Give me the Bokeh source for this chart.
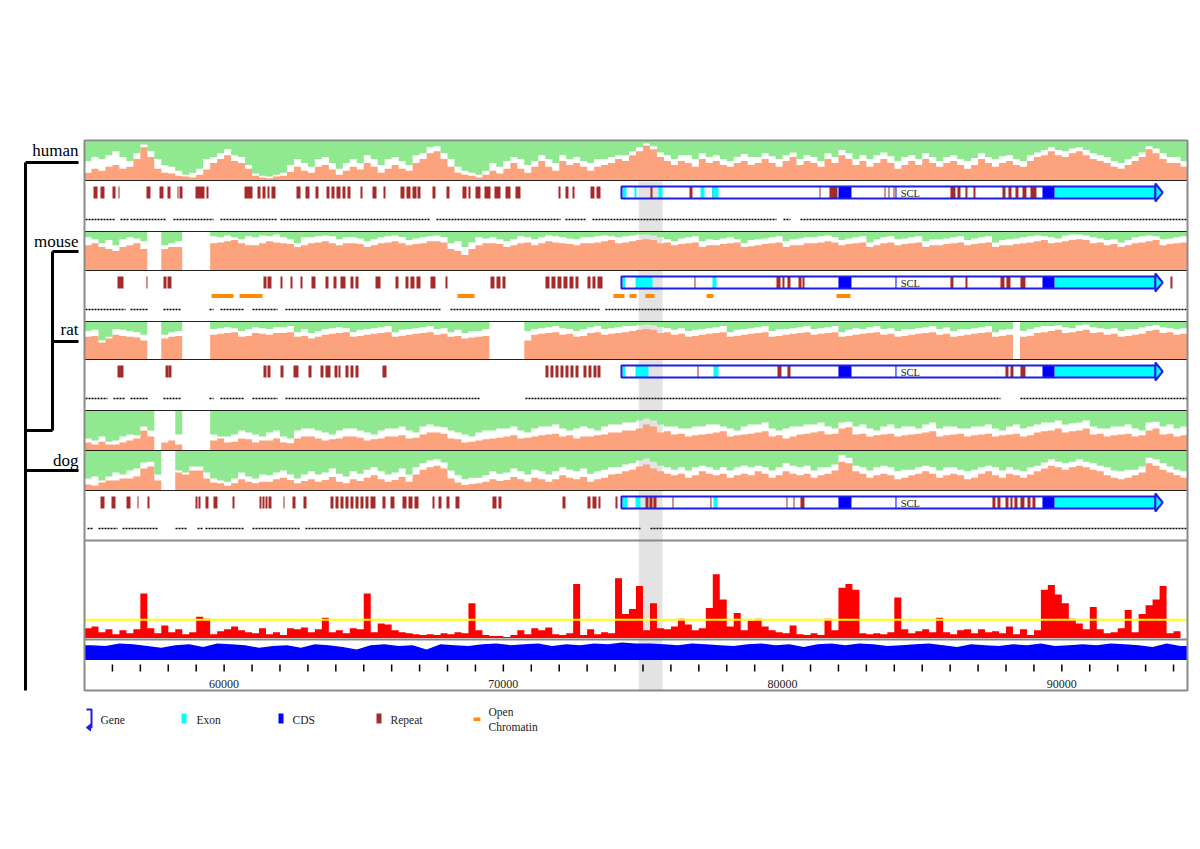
from bokeh.plotting import figure
from bokeh.models import Range1d
from bokeh.embed import file_html
from bokeh.resources import INLINE
from bokeh.core.properties import value

# ---------------- data ----------------
species = ["human", "mouse", "rat", "dog"]
tick_labels = [60000, 70000, 80000, 90000]

# conservation profiles, 250 bp steps from 55000 (lo = salmon height %, hi = lower edge of green %)
human_lo = [20,30,25,35,40,30,35,55,85,60,30,20,18,12,10,8,15,28,45,55,
            65,50,45,30,12,8,6,10,12,22,35,25,20,35,40,28,15,25,35,28,
            45,35,20,30,40,30,25,45,55,70,75,55,35,20,15,12,8,15,25,18,
            30,45,30,20,35,50,35,25,50,40,45,35,25,35,40,45,55,50,65,75,
            90,80,60,50,40,50,45,35,55,45,50,40,35,45,50,40,45,55,45,35,
            50,60,40,50,45,35,55,45,65,55,40,50,35,45,55,45,30,40,50,40,
            55,45,35,45,50,40,30,40,55,45,35,45,50,40,35,50,60,65,75,65,
            60,70,75,65,55,50,45,35,30,40,50,60,80,70,55,45,45,35]
human_hi = [50,60,55,65,75,60,50,70,92,75,55,40,35,25,15,20,30,55,60,70,
            80,65,60,40,18,12,10,15,20,40,55,45,35,55,60,45,30,45,55,45,
            65,55,40,55,60,50,40,65,70,85,88,70,55,35,25,20,15,25,45,35,
            50,60,55,40,50,65,55,45,65,55,60,50,45,55,55,60,65,65,75,85,
            95,88,72,65,55,65,65,55,70,60,65,55,50,60,68,60,60,70,62,55,
            65,72,55,65,60,50,70,60,78,70,55,65,55,65,72,62,50,60,65,55,
            70,60,50,60,65,55,50,58,70,60,55,62,65,55,50,65,72,78,85,78,
            75,82,85,78,70,65,60,50,45,55,62,72,88,82,70,60,60,50]
mouse_lo = [65,70,60,55,50,60,65,70,55,0,0,55,60,60,0,0,0,0,70,72,
            75,78,70,65,65,70,75,72,70,68,60,65,70,72,75,70,65,70,70,68,
            60,65,70,72,75,70,65,68,70,75,75,72,55,50,40,55,65,70,70,68,
            60,65,70,72,65,70,75,72,70,68,65,70,70,72,75,78,70,72,75,78,
            80,78,70,72,65,68,70,72,60,65,65,68,70,72,60,62,65,68,70,72,
            60,65,65,70,70,72,75,72,65,68,70,72,60,65,70,72,65,68,70,72,
            60,65,65,68,70,72,65,68,70,72,60,65,65,68,70,72,75,78,70,72,
            75,78,80,78,70,72,65,68,60,65,70,72,75,78,65,68,70,72]
mouse_hi = [85,80,70,78,65,80,85,82,75,100,100,65,70,75,100,100,100,100,88,85,
            90,85,80,88,85,90,88,92,85,80,70,85,85,88,90,88,80,85,85,82,
            75,80,85,88,90,86,78,82,85,88,90,86,70,75,60,72,85,82,85,80,
            75,80,88,85,80,85,90,88,85,82,80,85,85,88,90,88,85,88,90,92,
            92,90,85,80,75,82,85,88,75,80,78,82,85,80,70,78,80,82,85,88,
            75,80,82,85,85,88,90,86,78,82,85,88,72,80,85,88,80,82,85,88,
            75,80,80,82,85,88,78,82,85,88,72,78,80,82,85,88,90,88,85,82,
            90,92,92,90,85,82,78,80,72,78,85,88,90,88,80,82,85,88]
rat_lo = [60,62,45,55,65,62,60,58,50,0,0,55,60,62,0,0,0,0,65,68,
          70,72,60,62,70,68,65,70,70,72,60,62,55,60,65,68,70,72,60,62,
          65,68,70,72,60,62,65,68,70,72,65,68,60,62,55,58,60,62,0,0,
          0,0,0,50,65,68,70,72,65,68,60,62,70,72,65,68,70,72,75,78,
          80,78,70,72,65,68,60,62,65,68,70,72,60,62,65,68,70,72,60,62,
          65,68,70,72,65,68,70,72,60,62,65,68,70,72,65,68,60,62,65,68,
          70,72,65,68,60,62,65,68,70,72,60,62,65,0,60,62,70,72,75,78,
          70,72,75,78,70,72,65,68,60,62,65,68,75,78,70,72,65,68]
rat_hi = [75,78,50,60,80,78,75,72,65,100,100,65,72,75,100,100,100,100,80,82,
          85,82,75,80,85,82,80,85,85,88,72,80,70,75,80,82,85,82,72,78,
          80,82,85,88,72,78,80,82,85,88,80,82,72,78,70,75,75,80,100,100,
          100,100,100,75,80,82,85,88,82,80,75,80,85,88,80,82,85,88,88,90,
          92,90,85,82,78,82,75,78,80,82,85,88,72,78,80,82,85,88,75,80,
          80,82,85,88,80,82,85,88,72,78,82,80,85,88,80,82,75,80,80,82,
          85,88,80,84,75,80,80,82,85,88,72,78,80,100,75,80,85,88,88,90,
          85,82,90,92,85,82,80,82,75,80,80,84,88,90,85,82,80,82]
rodent_lo = [20,15,22,15,15,20,25,30,50,35,0,20,25,15,0,0,0,0,25,30,
             20,22,30,28,20,25,25,30,20,18,30,35,35,30,25,28,30,35,35,32,
             25,28,30,35,35,38,30,32,40,45,45,42,30,28,20,22,25,28,30,32,
             35,38,30,32,35,38,40,42,35,38,30,35,35,38,40,45,45,50,50,55,
             65,60,45,48,40,42,35,38,40,42,45,48,35,38,40,42,45,48,35,38,
             30,35,40,42,45,48,40,42,55,58,40,42,35,38,40,42,35,38,40,42,
             45,48,35,38,40,42,35,38,40,42,35,38,40,42,35,38,45,48,50,55,
             45,48,50,55,40,42,35,38,40,42,35,38,50,55,40,42,35,38]
rodent_hi = [30,25,35,22,25,35,40,38,60,50,100,100,100,40,100,100,100,100,40,35,
             35,40,50,45,40,35,45,50,35,30,50,55,55,50,45,40,50,55,55,50,
             45,40,50,55,55,60,50,45,60,65,60,58,50,45,40,35,45,50,50,55,
             55,60,50,45,55,60,60,65,55,50,55,60,55,50,60,65,65,70,70,75,
             80,75,65,60,60,55,55,60,60,65,65,60,55,50,60,65,65,70,55,50,
             55,60,60,65,65,70,60,55,70,72,60,65,55,50,60,65,55,60,60,55,
             65,70,55,60,60,55,55,60,60,65,55,50,60,65,55,60,65,70,70,75,
             65,68,70,75,60,55,55,60,60,65,55,50,70,72,60,65,55,60]
dog_lo = [15,12,20,25,25,30,30,35,55,60,25,0,0,45,40,50,50,30,20,18,
          12,18,28,22,18,22,22,28,32,26,18,24,28,22,26,34,22,18,28,24,
          32,38,28,22,26,34,22,40,52,58,62,55,30,20,14,16,18,22,28,24,
          26,34,28,22,32,28,22,28,38,32,28,34,22,28,32,40,42,48,52,60,
          65,55,48,42,38,42,32,38,48,42,38,42,32,38,42,38,48,42,32,38,
          48,42,38,42,32,38,42,50,72,68,48,42,32,38,42,38,28,32,38,42,
          48,42,32,38,42,38,28,32,42,48,38,32,42,38,32,40,48,55,62,58,
          52,58,62,58,52,48,38,32,28,32,38,45,68,62,52,45,38,32]
dog_hi = [30,35,25,35,45,40,50,55,70,72,40,100,100,50,45,60,60,45,30,25,
          22,30,45,35,30,40,38,45,50,40,30,40,48,40,45,55,42,35,48,42,
          52,58,48,40,45,55,40,58,68,75,78,70,50,38,28,32,32,38,48,42,
          45,55,48,40,52,48,40,48,58,52,48,55,42,48,52,58,58,65,68,75,
          80,72,62,58,52,58,50,58,62,58,52,58,50,58,62,58,62,58,50,58,
          68,62,58,62,50,58,58,65,88,82,62,58,50,58,62,58,48,52,52,58,
          62,58,50,58,58,52,48,52,58,62,58,50,58,52,48,58,62,70,78,72,
          68,72,78,72,68,62,58,50,48,52,52,60,82,78,68,60,52,48]

# conservation score (red), 250 bp steps from 55000
red_score = [10,12,6,9,4,8,5,9,46,10, 5,13,6,9,4,6,22,20,4,7, 9,12,8,6,5,10,4,6,3,10,
             9,11,6,9,21,6,8,5,10,9, 46,6,15,14,8,6,5,4,3,4, 3,5,4,6,5,36,8,3,2,2,
             1,3,8,4,10,8,11,4,3,5, 56,3,9,4,6,5,62,25,30,54, 8,36,10,9,12,20,14,8,10,31,
             66,40,12,26,8,18,20,12,8,6, 5,13,4,3,5,3,20,8,52,56, 50,5,4,5,4,6,42,9,5,7,
             9,6,21,6,4,8,9,5,9,6, 7,5,12,4,9,3,8,50,55,45, 36,20,15,9,32,9,5,6,10,29,
             6,25,34,40,54,5,7,0]
red_threshold = 19
# blue profile, 500 bp steps from 55000
blue_score = [0.85,0.8,0.95,0.9,0.8,0.7,0.85,0.9,0.75,0.95, 0.9,0.85,0.7,0.8,0.85,0.7,0.9,0.85,0.75,0.6,
              0.85,0.9,0.8,0.85,0.6,0.9,0.85,0.8,0.9,0.95, 0.85,0.9,0.95,0.8,0.9,0.85,0.95,0.9,1.0,0.95,
              0.95,0.9,0.85,0.95,0.9,0.85,0.8,0.9,0.95,0.85, 0.9,0.75,0.9,0.95,0.85,0.95,0.9,0.8,0.85,0.9,
              0.95,0.85,0.75,0.9,0.85,0.8,0.9,0.85,0.95,0.8, 0.85,0.9,0.85,0.95,0.9,0.85,0.75,0.95,0.8]

human_repeats = [(55322,55466),(55573,55716),(56003,56110),(56218,56253),(57220,57363),(57686,57829),(57972,58080),
                 (58330,58366),(58402,58509),(58975,59297),(59369,59440),(60730,61016),(61195,61303),(61374,61482),
                 (61553,61625),(61696,61840),(62592,62735),(62914,63057),(63272,63379),(63666,63773),(63845,63953),
                 (64024,64167),(64239,64346),(64418,64525),(64884,64955),(65313,65457),(65707,65779),(66316,66459),
                 (66531,66674),(66746,66889),(66925,67032),(67462,67569),(67963,68071),(68536,68679),(68751,68823),
                 (69002,69181),(69324,69539),(69682,69897),(70076,70255),(70434,70613),(71974,72046),(72225,72332),
                 (72475,72547),(73120,73263),(73335,73478),(75268,75340),(76665,76772),(77487,77523),(81320,81356),
                 (81678,81965),(83648,83684),(83791,83827),(83970,84006),(86011,86190),(86262,86370),(86549,86620),
                 (86835,86907),(87874,87981),(88088,88196),(88339,88447),(88590,88733),(88876,89091)]
mouse_repeats = [(56182,56397),(57220,57256),(57829,57936),(57972,58115),(61410,61517),(61553,61696),(62019,62090),
                 (62377,62448),(62735,62807),(63129,63272),(63630,63738),(63917,64024),(64167,64346),(64525,64633),
                 (64705,64812),(65421,65600),(66137,66244),(66495,66602),(66674,66817),(66889,67032),(67390,67569),
                 (67927,67999),(69539,69682),(69754,69897),(69969,70076),(71508,71652),(71723,71867),(71938,72081),
                 (72153,72296),(72368,72511),(72583,72690),(73012,73120),(73191,73299),(73371,73550),(76844,76880),
                 (79781,79925),(79996,80067),(80174,80282),(80569,80677),(80712,80783),(86011,86118),(86549,86620),
                 (87802,87945),(88017,88160),(88518,88697),(93889,93961)]
rat_repeats = [(56182,56397),(57901,58008),(58008,58115),(61410,61517),(61553,61661),(62019,62126),(62484,62663),
               (63021,63129),(63451,63559),(63630,63809),(63953,64060),(64096,64167),(64346,64454),(64525,64633),
               (64705,64812),(65671,65815),(71508,71616),(71687,71795),(71867,71974),(72046,72153),(72225,72332),
               (72404,72511),(72583,72690),(72869,72976),(73048,73155),(73227,73335),(73371,73478),(76952,76988),
               (79817,79960),(80174,80282),(87981,88088),(88160,88267),(88518,88697)]
dog_repeats = [(55573,55716),(55967,56110),(56504,56647),(56898,56934),(57256,57328),(58975,59047),(59082,59154),
               (59333,59440),(59619,59762),(60300,60372),(61267,61338),(61374,61446),(61482,61553),(61589,61696),
               (62126,62162),(62448,62556),(62842,62950),(63809,63917),(63988,64096),(64167,64275),(64346,64454),
               (64525,64633),(64705,64812),(64884,64991),(65063,65170),(65242,65421),(65671,65779),(65958,66101),
               (66388,66531),(66603,66746),(66817,66961),(67462,67534),(67677,67784),(67963,68071),(68286,68429),
               (69610,69754),(69825,69933),(72117,72225),(73012,73120),(73191,73335),(73406,73478),(74015,74087),
               (75089,75196),(75232,75340),(75375,75483),(76056,76092),(77416,77452),(80139,80174),(80390,80426),
               (80640,80783),(87515,87622),(87694,87802),(87981,88088),(88160,88232),(88303,88411),(88518,88661),
               (88769,88876),(88948,89055)]

gene_span = (74230, 93350)
gene_name = "SCL"
gene_label_pos = 84230
human_exons = [(74266,74409),(74696,74767),(75555,75698),(77059,77202),(77487,77703),(89736,93353)]
mouse_exons = [(74266,74370),(74731,75340),(77487,77631),(89736,93353)]
rat_exons = [(74266,74370),(74731,75197),(77525,77703),(89736,93353)]
dog_exons = [(74266,74445),(74731,74910),(77525,77668),(89736,93353)]
cds = [(82000,82466),(84042,84078),(89306,89736)]

human_aln = [(55036,56110),(56289,56576),(56647,57936),(58187,59619),(59870,61911),(62019,67390),(67605,72046),
             (72225,72941),(73191,79780),(80031,80282),(80640,94500)]
mouse_aln = [(55036,56468),(56647,57256),(57829,58438),(59476,59619),(59870,60694),(61016,61911),(62198,67748),
             (68106,73478),(73657,94500)]
rat_aln = [(55036,55824),(56038,56468),(56647,57256),(57829,58438),(59476,59619),(59870,60694),(61016,61911),
           (62198,69181),(70792,87802),(88518,94500)]
dog_aln = [(55107,55322),(55501,56182),(56361,57650),(58259,58688),(59047,59261),(59333,60694),(61016,62735),
           (62914,74910),(75268,94500)]
open_chromatin = [(59548,60336),(60551,61374),(68357,68966),(73943,74337),(74516,74767),(75089,75411),
                  (77274,77525),(81929,82430)]
highlight = (74850, 75700)

# ---------------- layout (page pixels) ----------------
W, H = 1192, 840
M = 0
FX0, FX1 = 84, 1187
BP0, BP1 = 55000, 94500
kx = (FX1 - FX0) / (BP1 - BP0)
x_start = BP0 - (FX0 - M) / kx

SALMON = "#fca27c"
GREEN = "#90e890"
REPEAT = "#a52a2a"
EXON = "#00ffff"
CDSC = "#0000ff"
GENE = "#1f1fe0"
ORANGE = "#ff8c00"
SERIF = value("Liberation Serif")

p = figure(width=W, height=H, x_range=Range1d(x_start, x_start + W / kx),
           y_range=Range1d(M + H, M), output_backend="svg", toolbar_location=None,
           x_axis_location=None, y_axis_location=None, min_border=0,
           outline_line_color=None, background_fill_color="white")
p.grid.visible = False

ranges = {}
def track_range(name, top, bottom, v0, v1):
    r = (v1 - v0) / (bottom - top)
    ranges[name] = Range1d(v0 - (M + H - bottom) * r, v1 + (top - M) * r)
    return name

cons_tracks = [
    ("human", 141, 180, human_lo, human_hi),
    ("mouse", 231, 270, mouse_lo, mouse_hi),
    ("rat", 321, 359, rat_lo, rat_hi),
    ("rodent", 410, 450, rodent_lo, rodent_hi),
    ("dog", 450, 490, dog_lo, dog_hi),
]
for name, top, bot, lo, hi in cons_tracks:
    track_range("cons_" + name, top, bot, 0, 100)
track_range("red", 541, 637.5, 0, 100)
track_range("blue", 642, 659.5, 0, 1)
p.extra_y_ranges = ranges
p.extra_x_ranges = {"px": Range1d(M, M + W)}

# highlight band (beneath everything)
p.quad(left=[highlight[0]], right=[highlight[1]], top=[181], bottom=[690],
       fill_color="#e3e3e3", line_color=None)

# step profiles: each value holds over its bin
def steps(vals, step):
    xs = [min(BP1, BP0 + step * i) for i in range(len(vals) + 1)]
    return xs, list(vals) + [vals[-1]]

for name, top, bot, lo, hi in cons_tracks:
    rn = "cons_" + name
    xs, ys = steps(lo, 250)
    p.varea_step(x=xs, y1=[0] * len(xs), y2=ys, step_mode="after", fill_color=SALMON, y_range_name=rn)
    xs, ys = steps(hi, 250)
    p.varea_step(x=xs, y1=ys, y2=[100] * len(xs), step_mode="after", fill_color=GREEN, y_range_name=rn)

border_y = [180, 231, 270, 321, 359, 410, 450, 490]
p.segment(x0=[BP0] * len(border_y), x1=[BP1] * len(border_y), y0=border_y, y1=border_y,
          line_color="#222222", line_width=1)

# annotation tracks
ann = [
    ("human", 186, 198, 219, human_repeats, human_exons, human_aln),
    ("mouse", 276, 288, 309, mouse_repeats, mouse_exons, mouse_aln),
    ("rat", 365, 377, 398, rat_repeats, rat_exons, rat_aln),
    ("dog", 496, 508, 528, dog_repeats, dog_exons, dog_aln),
]
for name, gt, gb, dy, reps, exons, aln in ann:
    p.quad(left=[a for a, b in reps], right=[b for a, b in reps], top=gt, bottom=gb,
           fill_color=REPEAT, line_color=None)
    p.quad(left=[a for a, b in exons], right=[b for a, b in exons], top=gt, bottom=gb,
           fill_color=EXON, line_color=None)
    p.quad(left=[a for a, b in cds], right=[b for a, b in cds], top=gt, bottom=gb,
           fill_color=CDSC, line_color=None)
    p.quad(left=[gene_span[0]], right=[gene_span[1]], top=[gt], bottom=[gb],
           fill_alpha=0, line_color=GENE, line_width=2)
    tip = gene_span[1] + 260
    p.patch(x=[gene_span[1], gene_span[1], tip, gene_span[1], gene_span[1]],
            y=[gt, gt - 3, (gt + gb) / 2, gb + 3, gb], fill_color=EXON, line_color=GENE, line_width=2)
    p.text(x=[gene_label_pos], y=[(gt + gb) / 2 + 0.5], text=[gene_name], text_font=SERIF,
           text_font_size="10.5px", text_baseline="middle", text_color="#222222")
    p.segment(x0=[a for a, b in aln], x1=[b for a, b in aln], y0=dy, y1=dy,
              line_color="black", line_width=1.6, line_dash="2 1")

# open chromatin (mouse)
p.quad(left=[a for a, b in open_chromatin], right=[b for a, b in open_chromatin], top=293.5, bottom=297.5,
       fill_color=ORANGE, line_color=None)

# red score track
rx, ry = steps(red_score, 250)
p.varea_step(x=rx, y1=[0] * len(rx), y2=ry, step_mode="after", fill_color="#ff0000", y_range_name="red")
p.line(x=[BP0, BP1], y=[red_threshold, red_threshold], line_color="#ffff00", line_width=2, y_range_name="red")
p.segment(x0=[BP0, BP0], x1=[BP1, BP1], y0=[540, 639], y1=[540, 639], line_color="#8a8a8a", line_width=2)

# blue track (values at bin centres, held flat to the track ends)
bx = [BP0] + [BP0 + 500 * i + 250 for i in range(len(blue_score))] + [BP1]
by = [blue_score[0]] + blue_score + [blue_score[-1]]
p.varea(x=bx, y1=[0] * len(bx), y2=by, fill_color="#0000ff", y_range_name="blue")

# axis ticks and labels
ticks = list(range(56000, 94001, 1000))
p.segment(x0=ticks, x1=ticks, y0=664, y1=671, line_color="black", line_width=1.5)
p.text(x=tick_labels, y=[683] * len(tick_labels), text=[str(t) for t in tick_labels], text_font=SERIF,
       text_font_size="12px", text_align="center", text_baseline="middle", text_color="#222222")

# frame
p.quad(left=[BP0], right=[BP1], top=[140], bottom=[690], fill_alpha=0, line_color="#8a8a8a", line_width=2)

# species tree
tree_x0 = [25, 25, 52, 52, 52, 25, 25]
tree_y0 = [162, 162, 251, 341, 251, 430, 470]
tree_x1 = [25, 78, 78, 78, 52, 52, 78]
tree_y1 = [690, 162, 251, 341, 430, 430, 470]
p.segment(x0=tree_x0, y0=tree_y0, x1=tree_x1, y1=tree_y1, line_color="black", line_width=3,
          x_range_name="px")
p.text(x=[78] * 4, y=[150, 241, 329, 460], text=species, text_font=SERIF, text_font_size="17px",
       text_align="right", text_baseline="middle", text_color="black", x_range_name="px")

# legend
leg_y = 719
p.multi_line(xs=[[86, 91, 91, 86]], ys=[[709, 709, 727, 727]], line_color=GENE, line_width=2, x_range_name="px")
p.patch(x=[86, 90, 90], y=[727, 723.5, 730.5], fill_color=GENE, line_color=GENE, x_range_name="px")
p.quad(left=[181, 278, 376], right=[186, 283, 381], top=[713] * 3, bottom=[723] * 3,
       fill_color=[EXON, CDSC, REPEAT], line_color=None, x_range_name="px")
p.quad(left=[473], right=[480], top=[717], bottom=[720.5], fill_color=ORANGE, line_color=None, x_range_name="px")
p.text(x=[100, 196, 292, 390, 488, 488], y=[leg_y, leg_y, leg_y, leg_y, 711, 726],
       text=["Gene", "Exon", "CDS", "Repeat", "Open", "Chromatin"], text_font=SERIF, text_font_size="11.5px",
       text_baseline="middle", text_color="#222222", x_range_name="px")

open("out.html", "w").write(file_html(p, INLINE))
